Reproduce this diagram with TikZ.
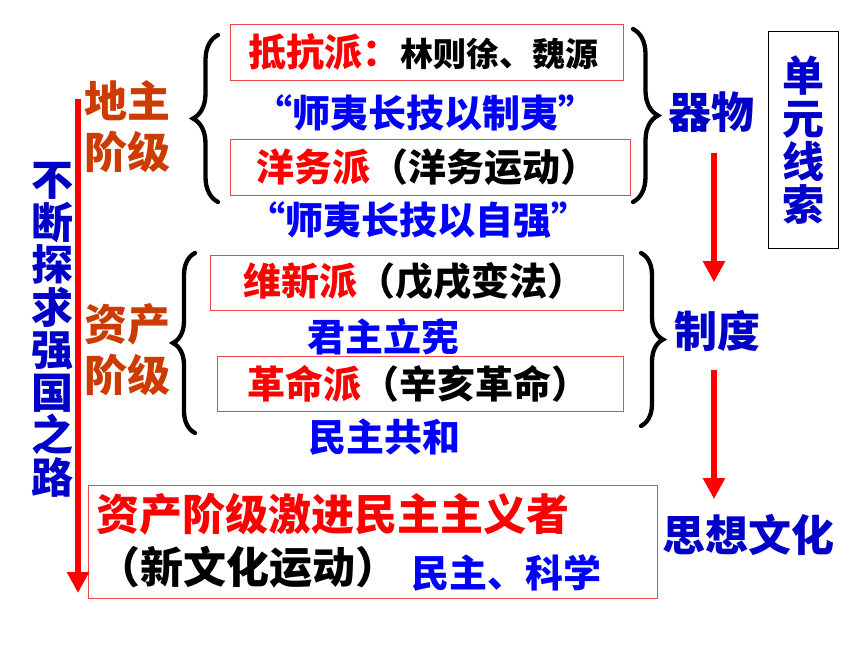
\documentclass[tikz,border=0pt]{standalone}
\usepackage{fontspec}
\setmainfont{Noto Sans CJK SC}
\usepackage{xcolor}
\usepackage{tikz}
\usetikzlibrary{positioning,arrows.meta,decorations.pathreplacing}
\definecolor{hlRed}{RGB}{255,0,0}
\definecolor{hlBlue}{RGB}{0,0,255}
\definecolor{deepBlue}{RGB}{0,0,200}
\definecolor{landBrown}{RGB}{204,60,0}
\definecolor{boxRed}{RGB}{240,70,70}

\begin{document}
\begin{tikzpicture}[x=1pt,y=-1pt,every node/.style={inner sep=0pt},
  txt/.style={font=\bfseries\fontsize{#1}{#1}\selectfont},
  pbox/.style={draw=boxRed,line width=1.2pt,anchor=north west},
  redArrow/.style={hlRed,line width=6pt,-{Triangle[length=21pt,width=21pt]}},
  bracket/.style={decorate,decoration={brace,amplitude=#1},line width=4.3pt,line cap=round}]
  \useasboundingbox (0,0) rectangle (860,645);

  % boxes
  \node (kangBox) at (230,24) [pbox,minimum width=393,minimum height=56] {};
  \node (yangBox) at (230,139) [pbox,minimum width=400,minimum height=56] {};
  \node (xinBox) at (210,255) [pbox,minimum width=413,minimum height=55] {};
  \node (gmBox) at (217,356) [pbox,minimum width=406,minimum height=55] {};
  \node (wenBox) at (88,485) [pbox,minimum width=569,minimum height=113] {};

  \node (kang) at (248,52) [anchor=west,txt=38] {\color{hlRed}抵抗派：\fontsize{33}{33}\selectfont\color{black}林则徐、魏源};
  \node (zhiYi) at (425,113) [txt=38,text=hlBlue] {“师夷长技以制夷”};
  \node (yang) at (256,167) [anchor=west,txt=38] {\color{hlRed}洋务派\color{black}（洋务运动）};
  \node (ziQiang) at (418,220) [txt=38,text=hlBlue] {“师夷长技以自强”};
  \node (xin) at (243,281) [anchor=west,txt=38] {\color{hlRed}维新派\color{black}（戊戌变法）};
  \node (junZhu) at (383,337) [txt=38,text=hlBlue] {君主立宪};
  \node (gm) at (247,384) [anchor=west,txt=38] {\color{hlRed}革命派\color{black}（辛亥革命）};
  \node (gongHe) at (384,437) [txt=38,text=hlBlue] {民主共和};

  \node (jiJin) at (96,514) [anchor=west,txt=43,text=hlRed] {资产阶级激进民主主义者};
  \node (xinWen) at (97,567) [anchor=west,txt=43] {（新文化运动）};
  \node (keXue) at (411,573) [anchor=west,txt=38,text=hlBlue] {民主、科学};

  % left side
  \node (diZhu) at (84,127) [anchor=west,align=left,text=landBrown,font=\bfseries\fontsize{43}{51}\selectfont] {地主\\阶级};
  \node (ziChan) at (84,350) [anchor=west,align=left,text=landBrown,font=\bfseries\fontsize{43}{51}\selectfont] {资产\\阶级};
  \node (road) at (52,330) [align=center,text=deepBlue,font=\bfseries\fontsize{42}{42.5}\selectfont] {不\\断\\探\\求\\强\\国\\之\\路};
  \coordinate (roadTop) at (78,99);
  \coordinate (roadEnd) at (78,593);
  \draw[redArrow] (roadTop) -- (roadEnd);

  % right side
  \node (qiWu) at (711,112) [txt=43,text=deepBlue] {器物};
  \node (zhiDu) at (717,331) [txt=43,text=deepBlue] {制度};
  \node (siXiang) at (748,535) [txt=43,text=deepBlue] {思想文化};
  \node (xianSuo) at (803,140) [draw,line width=1pt,minimum width=70,minimum height=217,align=center,text=deepBlue,font=\bfseries\fontsize{42}{43}\selectfont] {单\\元\\线\\索};
  \draw[redArrow] ([xshift=3pt,yshift=-20pt]qiWu.south) -- ([xshift=3pt,yshift=28pt]qiWu.south |- zhiDu.north);
  \draw[redArrow] ([xshift=-3pt,yshift=-18pt]zhiDu.south) -- ([xshift=-3pt,yshift=15pt]zhiDu.south |- siXiang.north);

  % braces
  \draw[bracket=25] (218,202) -- (218,35);
  \draw[bracket=25] (633,29) -- (633,202);
  \draw[bracket=22] (195,433) -- (195,253);
  \draw[bracket=22] (641,253) -- (641,426);
\end{tikzpicture}
\end{document}
